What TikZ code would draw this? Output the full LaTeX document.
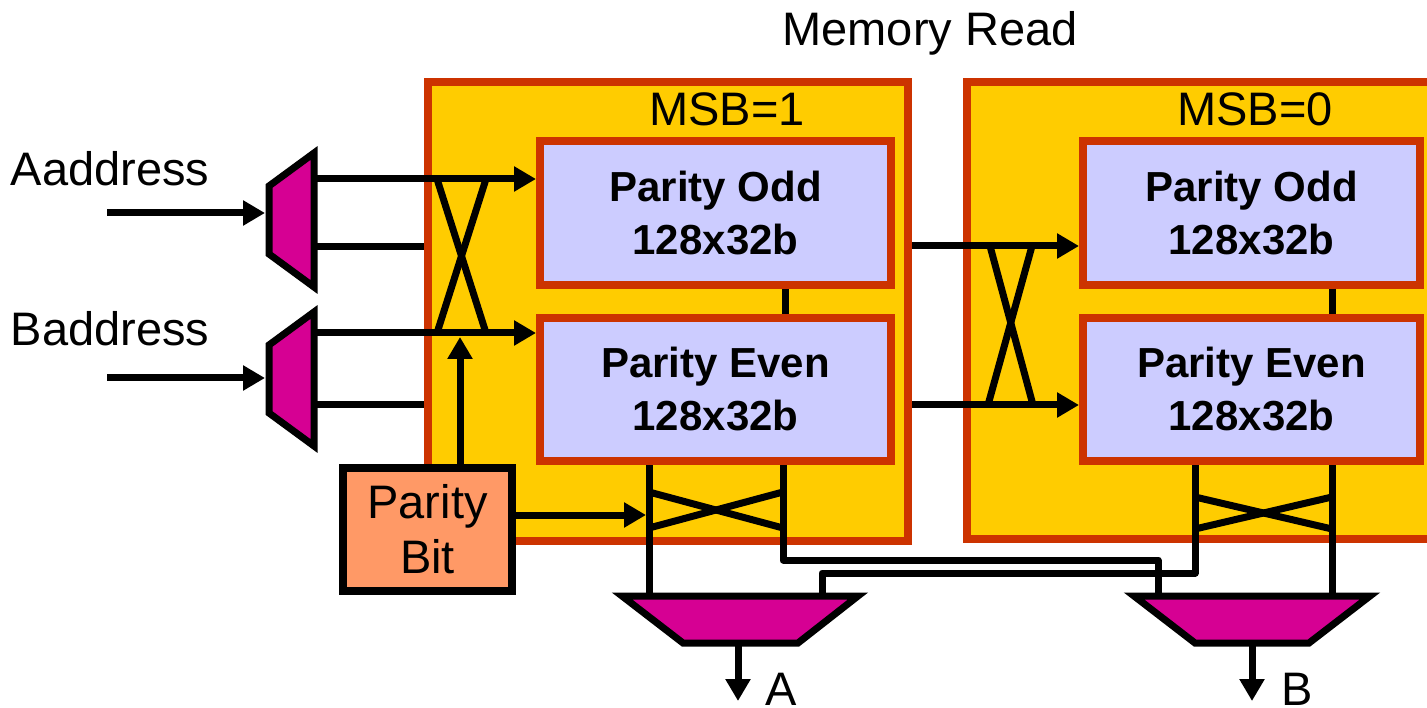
\documentclass[tikz,border=0pt]{standalone}
\usepackage{fontspec}
\setmainfont{Liberation Sans}
\usetikzlibrary{arrows.meta}
\definecolor{panel}{HTML}{FFCC00}
\definecolor{rim}{HTML}{CC3300}
\definecolor{bank}{HTML}{CCCCFF}
\definecolor{pbit}{HTML}{FF9966}
\definecolor{muxfill}{HTML}{D60093}

\begin{document}
\begin{tikzpicture}[x=1pt,y=-1pt,
  panelbox/.style={draw=rim, fill=panel, line width=8pt, inner sep=0pt},
  bankbox/.style={draw=rim, fill=bank, line width=8pt, inner sep=0pt, align=center,
    font=\fontsize{42}{53}\selectfont\bfseries},
  lbl/.style={inner sep=0pt, font=\fontsize{47}{56}\selectfont},
  wire/.style={draw=black, line width=7pt, line join=round},
  tip/.style={-{Triangle[length=22pt,width=24pt]}},
  mux/.style={draw=black, fill=muxfill, line width=7pt, line join=miter}]

\useasboundingbox (0,0) rectangle (1427,708);
\clip (0,0) rectangle (1427,708);

% two memory halves
\node[panelbox, minimum width=480pt, minimum height=459pt] (panL) at (668,311.5) {};
\node[panelbox, minimum width=493pt, minimum height=457pt] (panR) at (1213.5,310.5) {};

\node[lbl, anchor=base] (title) at (930,46) {Memory Read};
\node[lbl, anchor=base] (msb1) at (727,126) {MSB=1};
\node[lbl, anchor=base] (msb0) at (1255,126) {MSB=0};

% memory banks
\node[bankbox, minimum width=351pt, minimum height=144pt] (oddL) at (715.5,213) {Parity Odd\\128x32b};
\node[bankbox, minimum width=351pt, minimum height=143pt] (evenL) at (715.5,389.5) {Parity Even\\128x32b};
\node[bankbox, minimum width=337pt, minimum height=144pt] (oddR) at (1251.5,213) {Parity Odd\\128x32b};
\node[bankbox, minimum width=337pt, minimum height=143pt] (evenR) at (1251.5,389.5) {Parity Even\\128x32b};

% parity bit source
\node[draw=black, fill=pbit, line width=8pt, inner sep=0pt, minimum width=169pt,
  minimum height=123pt, align=center, font=\fontsize{47}{55}\selectfont] (pb) at (427.5,529.5) {Parity\\Bit};

% address inputs
\node[lbl, anchor=base] (aadr) at (110,186) {Aaddress};
\node[lbl, anchor=base] (badr) at (110,346) {Baddress};
\coordinate (aSrc) at (107,213);
\coordinate (bSrc) at (107,378);

% input mux ports
\coordinate (mA-in) at (265,213);
\coordinate (mA-o1) at (314,179);
\coordinate (mA-o2) at (314,247);
\coordinate (mB-in) at (265,378);
\coordinate (mB-o1) at (314,333);
\coordinate (mB-o2) at (314,405);

\draw[wire, tip] (aSrc) -- (mA-in);
\draw[wire, tip] (bSrc) -- (mB-in);
\draw[wire, tip] (mA-o1) -- (mA-o1 -| oddL.west);
\draw[wire] (mA-o2) -- (mA-o2 -| panL.west);
\draw[wire, tip] (mB-o1) -- (mB-o1 -| evenL.west);
\draw[wire] (mB-o2) -- (mB-o2 -| panL.west);

% address swap inside MSB=1
\coordinate (sw1) at (437,179);
\coordinate (sw2) at (486,179);
\coordinate (sw3) at (437,333);
\coordinate (sw4) at (486,333);
\draw[wire] (sw1) -- (sw4);
\draw[wire] (sw2) -- (sw3);

% parity bit controls
\coordinate (pbUp) at (460,337);
\coordinate (pbRt) at (646,515);
\draw[wire, tip] (pbUp |- pb.north) -- (pbUp);
\draw[wire, tip] (pb.east |- pbRt) -- (pbRt);

% bank links
\coordinate (lnkL) at (785,300);
\coordinate (lnkR) at (1332,300);
\draw[wire] (lnkL |- oddL.south) -- (lnkL |- evenL.north);
\draw[wire] (lnkR |- oddR.south) -- (lnkR |- evenR.north);

% address swap between halves
\coordinate (rTop) at (990,246);
\coordinate (rBot) at (990,405);
\draw[wire, tip] (panL.east |- rTop) -- (oddR.west |- rTop);
\draw[wire, tip] (panL.east |- rBot) -- (evenR.west |- rBot);
\coordinate (rs1) at (990,246);
\coordinate (rs2) at (1032,246);
\coordinate (rs3) at (988,405);
\coordinate (rs4) at (1033,405);
\draw[wire] (rs1) -- (rs4);
\draw[wire] (rs2) -- (rs3);

% output mux ports
\coordinate (mxA-l) at (649,596);
\coordinate (mxA-r) at (822,596);
\coordinate (mxB-l) at (1158,596);
\coordinate (mxB-r) at (1332,596);
\coordinate (jA) at (783,560);
\coordinate (jB) at (1195,573);

\draw[wire] (evenL.south -| mxA-l) -- (mxA-l);
\draw[wire] (evenL.south -| jA) -- (jA) -| (mxB-l);
\draw[wire] (evenR.south -| jB) -- (jB) -| (mxA-r);
\draw[wire] (evenR.south -| mxB-r) -- (mxB-r);

% data swaps
\coordinate (ds1) at (649,492);
\coordinate (ds2) at (783,528);
\coordinate (ds3) at (649,528);
\coordinate (ds4) at (783,492);
\draw[wire] (ds1) -- (ds2);
\draw[wire] (ds3) -- (ds4);
\coordinate (es1) at (1195,497);
\coordinate (es2) at (1332,529);
\coordinate (es3) at (1195,529);
\coordinate (es4) at (1332,497);
\draw[wire] (es1) -- (es2);
\draw[wire] (es3) -- (es4);

% multiplexers
\filldraw[mux] (269,186) -- (314,153) -- (314,287) -- (269,254) -- cycle;
\filldraw[mux] (269,345) -- (314,312) -- (314,446) -- (269,413) -- cycle;
\filldraw[mux] (622,596) -- (858,596) -- (798,643) -- (683,643) -- cycle;
\filldraw[mux] (1134,596) -- (1370,596) -- (1309,643) -- (1195,643) -- cycle;

% outputs
\coordinate (oAs) at (738,646);
\coordinate (oAe) at (738,701);
\coordinate (oBs) at (1252,646);
\coordinate (oBe) at (1252,701);
\draw[wire, tip] (oAs) -- (oAe);
\draw[wire, tip] (oBs) -- (oBe);
\node[lbl, anchor=base] (outA) at (781,705) {A};
\node[lbl, anchor=base] (outB) at (1297,705) {B};
\end{tikzpicture}
\end{document}
